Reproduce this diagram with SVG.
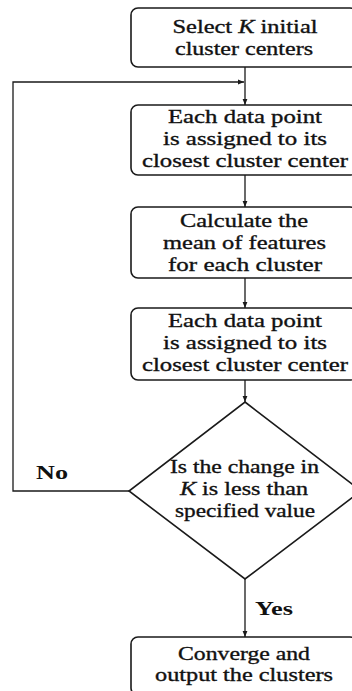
<svg xmlns="http://www.w3.org/2000/svg" width="352" height="691" viewBox="0 0 352 691">
  <style>
    .box { fill: #ffffff; stroke: #1a1a1a; stroke-width: 1.6; }
    .edge { fill: none; stroke: #1a1a1a; stroke-width: 1.3; }
    .lbl { font-family: "Liberation Serif", "Times New Roman", serif; font-size: 19px; fill: #111111; stroke: #111111; stroke-width: 0.35; text-anchor: middle; }
    .side { font-family: "Liberation Serif", "Times New Roman", serif; font-size: 19px; font-weight: bold; fill: #111111; }
  </style>
  <defs>
    <marker id="arrow" viewBox="0 0 10 10" refX="10" refY="5" markerWidth="6" markerHeight="6" markerUnits="userSpaceOnUse" orient="auto">
      <path d="M0,1 L10,5 L0,9 Z" fill="#1a1a1a"/>
    </marker>
  </defs>
  <rect width="352" height="691" fill="#ffffff"/>

  <g id="connectors">
    <line class="edge" x1="245" y1="67" x2="245" y2="105" marker-end="url(#arrow)"/>
    <polyline class="edge" points="129,491 13,491 13,82 244,82" marker-end="url(#arrow)"/>
    <line class="edge" x1="245" y1="175" x2="245" y2="207" marker-end="url(#arrow)"/>
    <line class="edge" x1="245" y1="278" x2="245" y2="308" marker-end="url(#arrow)"/>
    <line class="edge" x1="245" y1="380" x2="245" y2="402" marker-end="url(#arrow)"/>
    <line class="edge" x1="245" y1="579" x2="245" y2="637" marker-end="url(#arrow)"/>
    <text class="side" x="36" y="479" textLength="32" lengthAdjust="spacingAndGlyphs">No</text>
    <text class="side" x="255" y="615" textLength="38" lengthAdjust="spacingAndGlyphs">Yes</text>
  </g>

  <g id="select-centers">
    <rect class="box" x="131" y="8" width="226" height="59" rx="7"/>
    <text class="lbl" x="245" y="33" textLength="145" lengthAdjust="spacingAndGlyphs">Select <tspan font-style="italic">K</tspan> initial</text>
    <text class="lbl" x="244" y="55" textLength="138" lengthAdjust="spacingAndGlyphs">cluster centers</text>
  </g>

  <g id="assign-1">
    <rect class="box" x="131" y="105" width="226" height="70" rx="7"/>
    <text class="lbl" x="245" y="123" textLength="154" lengthAdjust="spacingAndGlyphs">Each data point</text>
    <text class="lbl" x="245" y="145" textLength="164" lengthAdjust="spacingAndGlyphs">is assigned to its</text>
    <text class="lbl" x="245" y="167" textLength="206" lengthAdjust="spacingAndGlyphs">closest cluster center</text>
  </g>

  <g id="calc-mean">
    <rect class="box" x="131" y="207" width="226" height="71" rx="7"/>
    <text class="lbl" x="244" y="227" textLength="128" lengthAdjust="spacingAndGlyphs">Calculate the</text>
    <text class="lbl" x="244.5" y="249" textLength="163" lengthAdjust="spacingAndGlyphs">mean of features</text>
    <text class="lbl" x="245" y="271" textLength="154" lengthAdjust="spacingAndGlyphs">for each cluster</text>
  </g>

  <g id="assign-2">
    <rect class="box" x="131" y="308" width="226" height="72" rx="7"/>
    <text class="lbl" x="245" y="327" textLength="154" lengthAdjust="spacingAndGlyphs">Each data point</text>
    <text class="lbl" x="245" y="349" textLength="164" lengthAdjust="spacingAndGlyphs">is assigned to its</text>
    <text class="lbl" x="245" y="371" textLength="206" lengthAdjust="spacingAndGlyphs">closest cluster center</text>
  </g>

  <g id="check-change">
    <polygon class="box" points="245,402 361,491 245,579 129,491"/>
    <text class="lbl" x="244.5" y="473" textLength="149" lengthAdjust="spacingAndGlyphs">Is the change in</text>
    <text class="lbl" x="244" y="495" textLength="128" lengthAdjust="spacingAndGlyphs"><tspan font-style="italic">K</tspan> is less than</text>
    <text class="lbl" x="245" y="517" textLength="140" lengthAdjust="spacingAndGlyphs">specified value</text>
  </g>

  <g id="output">
    <rect class="box" x="131" y="637" width="226" height="58" rx="7"/>
    <text class="lbl" x="244" y="660" textLength="132" lengthAdjust="spacingAndGlyphs">Converge and</text>
    <text class="lbl" x="244" y="681" textLength="178" lengthAdjust="spacingAndGlyphs">output the clusters</text>
  </g>
</svg>
